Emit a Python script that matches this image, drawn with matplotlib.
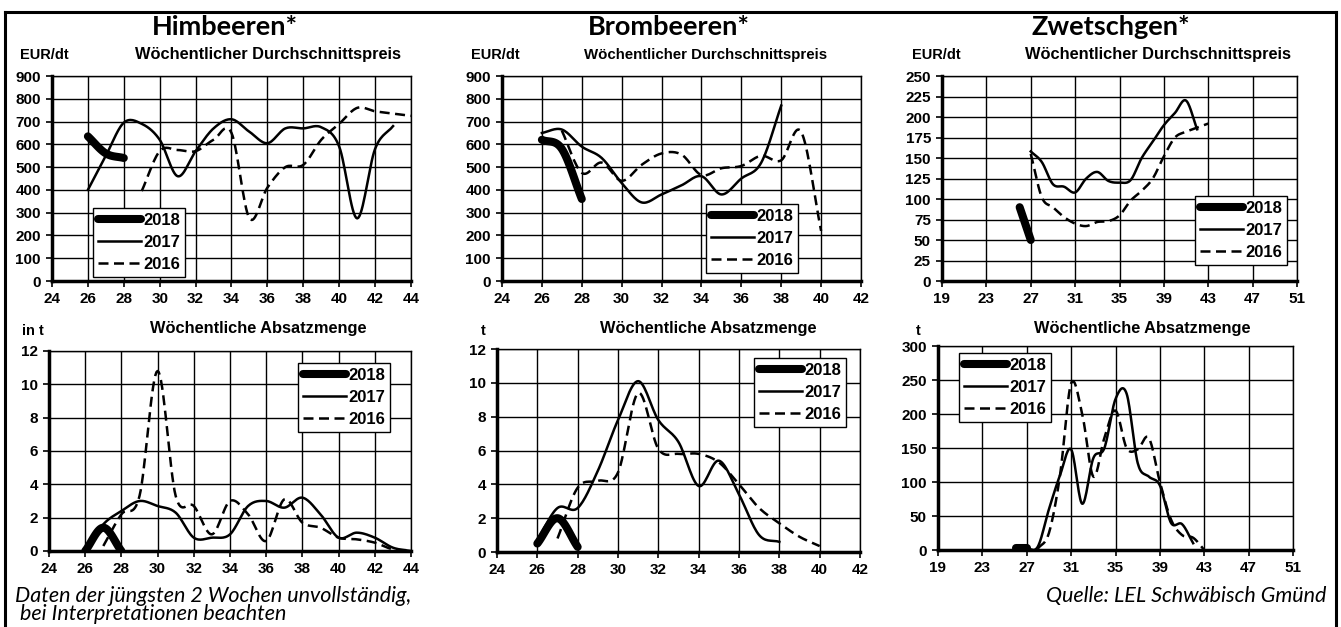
#!/usr/bin/env python3
'''Obstpreise und Absatzmengen (Himbeeren, Brombeeren, Zwetschgen)'''
import numpy as np
import matplotlib
matplotlib.use('Agg')
import matplotlib.pyplot as plt
from matplotlib.lines import Line2D

# ---- data: (weeks, values) per year ----
him_price_2018 = ([26, 27, 28], [635, 560, 540])
him_price_2017 = (list(range(26, 44)),
                  [400, 550, 695, 690, 620, 460, 570, 670, 710, 655, 605, 670, 670, 675, 590, 275, 580, 680])
him_price_2016 = (list(range(29, 45)),
                  [395, 570, 575, 570, 620, 650, 275, 410, 500, 510, 620, 690, 760, 745, 735, 725])

him_qty_2018 = ([26, 27, 28], [0, 1.4, 0])
him_qty_2017 = (list(range(26, 45)),
                [0, 1.6, 2.4, 3.0, 2.7, 2.3, 0.8, 0.8, 1.0, 2.7, 3.0, 2.6, 3.2, 2.2, 0.8, 1.1, 0.8, 0.2, 0.0])
him_qty_2016 = (list(range(27, 45)),
                [0.3, 2.2, 3.3, 10.8, 3.3, 2.7, 1.0, 3.0, 2.2, 0.6, 3.1, 1.7, 1.4, 0.8, 0.7, 0.5, 0.1, 0.05])

bro_price_2018 = ([26, 27, 28], [620, 580, 360])
bro_price_2017 = (list(range(26, 39)),
                  [650, 665, 590, 540, 430, 345, 380, 420, 460, 380, 450, 520, 770])
bro_price_2016 = (list(range(27, 41)),
                  [660, 475, 520, 440, 510, 560, 555, 465, 495, 505, 550, 530, 655, 220])

bro_qty_2018 = ([26, 27, 28], [0.5, 2.0, 0.3])
bro_qty_2017 = (list(range(26, 39)),
                [0.7, 2.6, 2.6, 4.8, 7.8, 10.1, 7.8, 6.5, 3.9, 5.4, 3.4, 1.0, 0.6])
bro_qty_2016 = (list(range(27, 41)),
                [0.8, 3.8, 4.2, 4.7, 9.4, 6.1, 5.8, 5.8, 5.3, 4.0, 2.6, 1.7, 0.9, 0.35])

zwe_price_2018 = ([26, 27], [90, 50])
zwe_price_2017 = (list(range(27, 43)),
                  [158, 145, 118, 115, 108, 125, 133, 122, 120, 123, 150, 170, 190, 205, 220, 185])
zwe_price_2016 = (list(range(27, 44)),
                  [155, 102, 90, 78, 70, 67, 72, 73, 80, 98, 110, 125, 152, 175, 182, 187, 192])

zwe_qty_2018 = ([26, 27], [3, 3])
zwe_qty_2017 = (list(range(27, 43)),
                [2, 5, 60, 110, 148, 68, 135, 150, 222, 230, 128, 108, 95, 40, 38, 10])
zwe_qty_2016 = (list(range(28, 44)),
                [2, 25, 110, 245, 200, 108, 165, 205, 150, 148, 165, 100, 45, 22, 18, 0])

years = ['2018', '2017', '2016']


def smooth(xs, ys, n=16):
    # Catmull-Rom spline through the points (like Excel's smoothed line)
    x = np.asarray(xs, float)
    y = np.asarray(ys, float)
    if len(x) < 3:
        return x, y
    px = np.concatenate([[2*x[0]-x[1]], x, [2*x[-1]-x[-2]]])
    py = np.concatenate([[2*y[0]-y[1]], y, [2*y[-1]-y[-2]]])
    ox, oy = [], []
    t = np.linspace(0, 1, n, endpoint=False)
    for i in range(1, len(px)-2):
        for arr, out in ((px, ox), (py, oy)):
            p0, p1, p2, p3 = arr[i-1], arr[i], arr[i+1], arr[i+2]
            out.extend(0.5*((2*p1) + (-p0+p2)*t + (2*p0-5*p1+4*p2-p3)*t**2 + (-p0+3*p1-3*p2+p3)*t**3))
    ox.append(x[-1]); oy.append(y[-1])
    return np.array(ox), np.array(oy)


W, H = 1341, 627
fig = plt.figure(figsize=(W/100, H/100), dpi=100)
plt.rcParams['font.family'] = ['Liberation Sans', 'DejaVu Sans']


def add_ax(l, r, t, b):
    return fig.add_axes([l/W, 1-b/H, (r-l)/W, (b-t)/H])


def style(ax, xlim, xstep, ylim, ystep):
    ax.set_xlim(*xlim)
    ax.set_ylim(*ylim)
    ax.set_xticks(np.arange(xlim[0], xlim[1]+0.1, xstep))
    ax.set_yticks(np.arange(ylim[0], ylim[1]+0.1, ystep))
    ax.grid(True, color='black', linewidth=1.0)
    ax.set_axisbelow(True)
    for s in ('top', 'right'):
        ax.spines[s].set_linewidth(1.0)
    for s in ('left', 'bottom'):
        ax.spines[s].set_linewidth(2.5)
    ax.tick_params(direction='out', length=4, width=1.2, labelsize=11, pad=4)
    for lab in ax.get_xticklabels() + ax.get_yticklabels():
        lab.set_fontweight('bold')


def draw(ax, series, leg_xy):
    styles = [dict(lw=5.8, ls='-', solid_capstyle='round'),
              dict(lw=1.8, ls='-'),
              dict(lw=1.8, ls=(0, (4, 2.2)))]
    for (xs, ys), st, yr in zip(series, styles, years):
        sx, sy = smooth(xs, ys)
        ax.plot(sx, sy, color='black', label=yr, **st)
    handles = [Line2D([], [], color='black', **st) for st in styles]
    leg = ax.legend(handles, years, loc='upper left',
                    bbox_to_anchor=(leg_xy[0]/W, 1-leg_xy[1]/H), bbox_transform=fig.transFigure,
                    fancybox=False, edgecolor='black', framealpha=1, handlelength=2.6,
                    handletextpad=0.1, borderpad=0.3, borderaxespad=0, labelspacing=0.42,
                    prop=dict(weight='bold', size=12))
    leg.get_frame().set_linewidth(1.0)


# ---- axes ----
panels = [
    # (top-price axes box, bottom-qty axes box, xlim, xstep, price ylim/step, qty ylim/step, data, legend pos)
    dict(p=(52, 411, 76, 281), q=(49, 411, 351, 551), xlim=(24, 44), xs=2,
         pl=(0, 900), ps=100, ql=(0, 12), qs=2,
         pd=(him_price_2018, him_price_2017, him_price_2016),
         qd=(him_qty_2018, him_qty_2017, him_qty_2016),
         plg=(93, 208), qlg=(298, 363)),
    dict(p=(502, 861, 76, 281), q=(497, 860, 349, 552), xlim=(24, 42), xs=2,
         pl=(0, 900), ps=100, ql=(0, 12), qs=2,
         pd=(bro_price_2018, bro_price_2017, bro_price_2016),
         qd=(bro_qty_2018, bro_qty_2017, bro_qty_2016),
         plg=(706, 204), qlg=(754, 358)),
    dict(p=(942, 1297, 76, 281), q=(938, 1293, 346, 550), xlim=(19, 51), xs=4,
         pl=(0, 250), ps=25, ql=(0, 300), qs=50,
         pd=(zwe_price_2018, zwe_price_2017, zwe_price_2016),
         qd=(zwe_qty_2018, zwe_qty_2017, zwe_qty_2016),
         plg=(1195, 196), qlg=(959, 353)),
]

for pn in panels:
    ax = add_ax(*pn['p'])
    style(ax, pn['xlim'], pn['xs'], pn['pl'], pn['ps'])
    draw(ax, pn['pd'], pn['plg'])
    ax2 = add_ax(*pn['q'])
    style(ax2, pn['xlim'], pn['xs'], pn['ql'], pn['qs'])
    draw(ax2, pn['qd'], pn['qlg'])

# ---- texts ----
title_font = dict(family=['Lato', 'DejaVu Sans'], weight='bold', size=19.5)
for x, t in ((225, 'Himbeeren*'), (669, 'Brombeeren*'), (1111, 'Zwetschgen*')):
    fig.text(x/W, 1-27/H, t, ha='center', va='center', **title_font)

for x, t in ((20, 'EUR/dt'), (471, 'EUR/dt'), (912, 'EUR/dt')):
    fig.text(x/W, 1-55/H, t, ha='left', va='center', weight='bold', size=10.5)
for x, sz in ((268, 11.8), (706, 10.8), (1158, 11.8)):
    fig.text(x/W, 1-55/H, 'Wöchentlicher Durchschnittspreis', ha='center', va='center',
             weight='bold', size=sz)

for x, t in ((22, 'in t'), (481, 't'), (916, 't')):
    fig.text(x/W, 1-331/H, t, ha='left', va='center', weight='bold', size=10.5)
for x in (258, 708, 1142):
    fig.text(x/W, 1-328/H, 'Wöchentliche Absatzmenge', ha='center', va='center',
             weight='bold', size=11.8)

foot = dict(family=['Lato', 'DejaVu Sans'], style='italic', size=15.5)
fig.text(15/W, 1-596/H, 'Daten der jüngsten 2 Wochen unvollständig,', ha='left', va='center', **foot)
fig.text(20/W, 1-614/H, 'bei Interpretationen beachten', ha='left', va='center', **foot)
fig.text(1326/W, 1-596/H, 'Quelle: LEL Schwäbisch Gmünd', ha='right', va='center', **foot)

# outer frame (open at the bottom)
for xs, ys in (((5, 5), (H+5, 12)), ((5, 1336), (12, 12)), ((1336, 1336), (12, H+5))):
    fig.add_artist(Line2D([x/W for x in xs], [1-y/H for y in ys], color='black', lw=2.2,
                          transform=fig.transFigure))

fig.savefig('out.png', dpi=100)
